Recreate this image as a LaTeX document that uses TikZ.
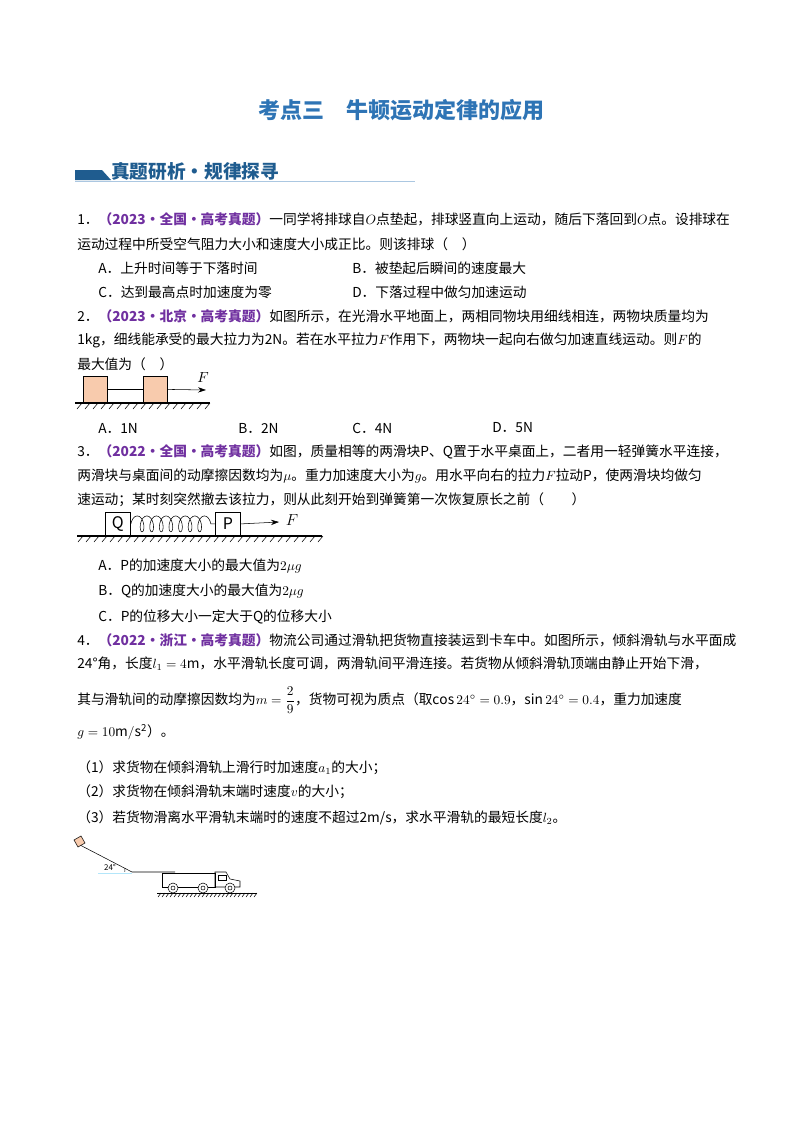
\documentclass[tikz,border=0pt]{standalone}
\usepackage{fontspec}
\setmainfont{Noto Sans CJK SC}
\usetikzlibrary{decorations.pathmorphing,arrows.meta}
\definecolor{ttl}{HTML}{2E74B5}
\definecolor{tag}{HTML}{7030A0}
\definecolor{bar}{HTML}{1F5C8F}
\definecolor{blk}{HTML}{F8CBAD}
\begin{document}
\begin{tikzpicture}[x=0.75pt,y=-0.75pt,
  ln/.style={anchor=west,inner sep=0pt,font=\fontsize{10.3pt}{12pt}\selectfont},
  farrow/.style={-{Stealth[length=6pt,width=4pt]}}]
\useasboundingbox (0,0) rectangle (800,1132);
\fill[white] (0,0) rectangle (800,1132);
% title
\node[font=\fontsize{16.5pt}{18pt}\selectfont\bfseries,text=ttl] (title) at (401,110) {考点三\quad 牛顿运动定律的应用};
% header bar
\fill[bar] (75,170) -- (102,170) -- (111,180) -- (75,180) -- cycle;
\node[anchor=west,inner sep=0pt,text=bar,font=\fontsize{14pt}{16pt}\selectfont\bfseries] (hdr) at (111,171) {真题研析・规律探寻};
\draw[ttl!40,line width=1pt] (75,181.5) -- (415,181.5);
% Q1
\node[ln] (q1a) at (77,219) {1．\textcolor{tag}{\textbf{（2023·全国·高考真题）}}一同学将排球自$O$点垫起，排球竖直向上运动，随后下落回到$O$点。设排球在};
\node[ln] (q1b) at (77,244) {运动过程中所受空气阻力大小和速度大小成正比。则该排球（\quad ）};
\node[ln] (q1A) at (98,268) {A．上升时间等于下落时间};
\node[ln] (q1B) at (352,268) {B．被垫起后瞬间的速度最大};
\node[ln] (q1C) at (98,292) {C．达到最高点时加速度为零};
\node[ln] (q1D) at (352,292) {D．下落过程中做匀加速运动};
% Q2
\node[ln] (q2a) at (77,316) {2．\textcolor{tag}{\textbf{（2023·北京·高考真题）}}如图所示，在光滑水平地面上，两相同物块用细线相连，两物块质量均为};
\node[ln] (q2b) at (77,340) {1kg，细线能承受的最大拉力为2N。若在水平拉力$F$作用下，两物块一起向右做匀加速直线运动。则$F$的};
\node[ln] (q2c) at (77,364) {最大值为（\quad ）};
\draw[thick] (75,403) -- (210,403);
\foreach \x in {77,85,...,207} \draw (\x,409) -- (\x+5,403);
\node[draw,fill=blk,minimum width=18pt,minimum height=20pt,inner sep=0pt,anchor=south west] (m1) at (83,403) {};
\node[draw,fill=blk,minimum width=18pt,minimum height=20pt,inner sep=0pt,anchor=south west] (m2) at (143,403) {};
\draw (m1.east) -- (m2.west);
\coordinate (f2) at (206,390);
\draw[farrow] (m2.east) -- (f2);
\node[font=\fontsize{11pt}{12pt}\selectfont] (F2) at (203,378) {$F$};
\node[ln] (q2A) at (98,428) {A．1N};
\node[ln] (q2B) at (238,428) {B．2N};
\node[ln] (q2C) at (352,428) {C．4N};
\node[ln] (q2D) at (492,428) {D．5N};
% Q3
\node[ln] (q3a) at (77,452) {3．\textcolor{tag}{\textbf{（2022·全国·高考真题）}}如图，质量相等的两滑块P、Q置于水平桌面上，二者用一轻弹簧水平连接，};
\node[ln] (q3b) at (77,476) {两滑块与桌面间的动摩擦因数均为$\mu$。重力加速度大小为$g$。用水平向右的拉力$F$拉动P，使两滑块均做匀};
\node[ln] (q3c) at (77,500) {速运动；某时刻突然撤去该拉力，则从此刻开始到弹簧第一次恢复原长之前（\qquad ）};
\draw[thick] (77,536) -- (322,536);
\foreach \x in {78,86,...,318} \draw (\x,542) -- (\x+5,536);
\node[draw,minimum width=19pt,minimum height=17pt,inner sep=0pt,anchor=south west,font=\fontsize{12pt}{12pt}\selectfont] (Q) at (105,535.5) {Q};
\node[draw,minimum width=19pt,minimum height=17pt,inner sep=0pt,anchor=south west,font=\fontsize{12pt}{12pt}\selectfont] (P) at (215,535.5) {P};
\draw[decorate,decoration={coil,aspect=0.5,segment length=7.2pt,amplitude=6pt}] (Q.east) -- (P.west);
\coordinate (f3) at (279,522);
\draw[farrow] (P.east) -- (f3);
\node[font=\fontsize{13pt}{13pt}\selectfont] (F3) at (292,520) {$F$};
\node[ln] (q3A) at (98,566) {A．P的加速度大小的最大值为$2\mu g$};
\node[ln] (q3B) at (98,591) {B．Q的加速度大小的最大值为$2\mu g$};
\node[ln] (q3C) at (98,617) {C．P的位移大小一定大于Q的位移大小};
% Q4
\node[ln] (q4a) at (77,640) {4．\textcolor{tag}{\textbf{（2022·浙江·高考真题）}}物流公司通过滑轨把货物直接装运到卡车中。如图所示，倾斜滑轨与水平面成};
\node[ln] (q4b) at (77,664) {24°角，长度$l_1=4\mathrm{m}$，水平滑轨长度可调，两滑轨间平滑连接。若货物从倾斜滑轨顶端由静止开始下滑，};
\node[ln] (q4c) at (77,700) {其与滑轨间的动摩擦因数均为$m=\displaystyle\frac{2}{9}$，货物可视为质点（取$\cos24^\circ=0.9$，$\sin24^\circ=0.4$，重力加速度};
\node[ln] (q4d) at (77,732) {$g=10\mathrm{m/s^2}$）。};
\node[ln] (q41) at (77,768) {（1）求货物在倾斜滑轨上滑行时加速度$a_1$的大小；};
\node[ln] (q42) at (77,792) {（2）求货物在倾斜滑轨末端时速度$v$的大小；};
\node[ln] (q43) at (77,818) {（3）若货物滑离水平滑轨末端时的速度不超过2m/s，求水平滑轨的最短长度$l_2$。};
% truck figure
\draw (80,845) -- (132,872) -- (175,872);
\draw[fill=blk] (74,840) -- (81,836) -- (85,843) -- (78,847) -- cycle;
\draw (125,868.5) arc (200:170:6);
\node[font=\fontsize{6pt}{6pt}\selectfont] (ang) at (110,867) {24°};
\draw[cyan!30] (98,873) -- (132,873);
\draw (162,873) rectangle (215,887);
\draw (215,887) -- (215,872) -- (226,872) -- (230,879) -- (240,881) -- (240,887) -- cycle;
\draw (218,875) rectangle (226,880);
\foreach \x in {173,203,230} {\draw[fill=white] (\x,888) circle (5); \draw (\x,888) circle (2);}
\draw (157,893) -- (257,893);
\foreach \x in {158,162,...,254} \draw[thin] (\x,897) -- (\x+3,893);
\end{tikzpicture}
\end{document}
